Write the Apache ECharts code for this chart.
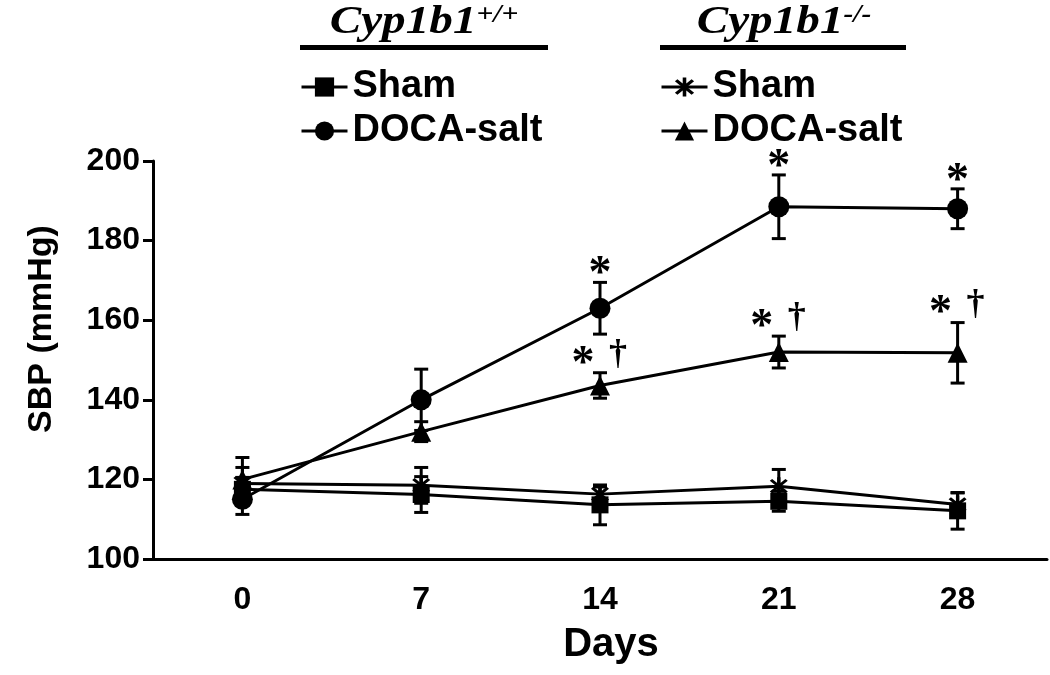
<!DOCTYPE html>
<html><head><meta charset="utf-8">
<script src="https://cdn.jsdelivr.net/npm/echarts@6/dist/echarts.min.js"></script>
<style>html,body{margin:0;padding:0;background:#fff}#c{width:1050px;height:675px}</style>
</head><body><div id="c"></div>
<script>
// ---- data ----
const days = ['0', '7', '14', '21', '28'];
const yTicks = [100, 120, 140, 160, 180, 200];
const seriesNames = ['WT|Sham', 'WT|DOCA-salt', 'KO|Sham', 'KO|DOCA-salt'];
const wtSham = [117.5, 116.2, 113.6, 114.5, 112.1];
const wtShamErr = [3.0, 4.5, 5.0, 2.5, 4.6];
const wtDoca = [115.0, 140.0, 163.0, 188.5, 188.0];
const wtDocaErr = [3.8, 7.7, 6.5, 8.0, 5.0];
const koSham = [119.0, 118.5, 116.3, 118.3, 113.7];
const koShamErr = [4.0, 4.5, 1.8, 4.2, 2.9];
const koDoca = [120.0, 132.0, 143.6, 152.0, 151.8];
const koDocaErr = [5.5, 2.5, 3.2, 4.0, 7.6];
const sigWtDoca = ['', '', '*', '*', '*'];
const sigKoDocaStar = ['', '', '*', '*', '*'];
const sigKoDocaDagger = ['', '', '\u2020', '\u2020', '\u2020'];
const groupTitles = ['Cyp1b1', 'Cyp1b1'];
const groupSup = ['+/+', '-/-'];

// ---- helpers ----
const SANS = '"Liberation Sans", Arial, sans-serif';
const SERIF = '"Liberation Serif", "Times New Roman", serif';
const starPath = 'path://M8.5 0L11.5 0L11.5 20L8.5 20Z M4.06 1.94L18.06 15.94L15.94 18.06L1.94 4.06Z M15.94 1.94L18.06 4.06L4.06 18.06L1.94 15.94Z';

function lineSeries(name, data, symbol, size) {
  return {
    type: 'line', name: name, data: data, symbol: symbol, symbolSize: size,
    showAllSymbol: true, z: 3,
    lineStyle: {color: '#000', width: 3},
    itemStyle: {color: '#000', borderWidth: 0},
    emphasis: {disabled: true}, animation: false
  };
}
function errSeries(means, errs) {
  return {
    type: 'custom', z: 4, silent: true, animation: false,
    data: means.map((m, i) => [i, m, errs[i]]),
    renderItem: function (params, api) {
      const i = api.value(0), m = api.value(1), e = api.value(2);
      const hi = api.coord([i, m + e]);
      const lo = api.coord([i, m - e]);
      const w = 7;
      const st = {stroke: '#000', lineWidth: 3};
      return {type: 'group', children: [
        {type: 'line', shape: {x1: hi[0], y1: hi[1], x2: lo[0], y2: lo[1]}, style: st},
        {type: 'line', shape: {x1: hi[0] - w, y1: hi[1], x2: hi[0] + w, y2: hi[1]}, style: st},
        {type: 'line', shape: {x1: lo[0] - w, y1: lo[1], x2: lo[0] + w, y2: lo[1]}, style: st}
      ]};
    }
  };
}
function sigSeries(means, errs, marks) {
  return {
    type: 'custom', z: 5, silent: true, animation: false,
    data: means.map((m, i) => [i, m, errs[i]]),
    renderItem: function (params, api) {
      const i = api.value(0), m = api.value(1), e = api.value(2);
      const hi = api.coord([i, m + e]);
      const kids = [];
      marks.forEach(function (mk) {
        const t = mk[0][params.dataIndex];
        if (!t) return;
        kids.push({type: 'text', x: hi[0] + mk[1], y: hi[1] + mk[2],
          style: {text: t, font: mk[3], fill: '#000', align: 'center', verticalAlign: 'middle'}});
      });
      return {type: 'group', children: kids};
    }
  };
}

const chart = echarts.init(document.getElementById('c'), null, {renderer: 'canvas'});
const legendBase = {
  orient: 'horizontal', itemWidth: 46, itemHeight: 24, itemGap: 0, padding: 0,
  selectedMode: false,
  lineStyle: {width: 3, color: '#000'},
  textStyle: {fontFamily: SANS, fontWeight: 'bold', fontSize: 38, color: '#000', padding: [0, 0, 0, 0]},
  formatter: function (n) { return n.split('|')[1]; }
};
function titleText(idx, cx) {
  return {
    type: 'text', x: cx, y: 3, scaleX: 1.18, originX: 0, originY: 0,
    style: {
      text: '{a|' + groupTitles[idx] + '}{b|' + groupSup[idx] + '}',
      align: 'center', verticalAlign: 'top',
      rich: {
        a: {font: 'italic bold 40px ' + SERIF, fill: '#000', verticalAlign: 'bottom', lineHeight: 40},
        b: {font: 'italic bold 25px ' + SERIF, fill: '#000', verticalAlign: 'top', lineHeight: 40, padding: [0, 0, 15, 0]}
      }
    }
  };
}

chart.setOption({
  backgroundColor: '#fff',
  animation: false,
  grid: {left: 153, top: 161, width: 894, height: 398, containLabel: false},
  xAxis: {
    type: 'category', data: days, boundaryGap: true,
    name: 'Days', nameLocation: 'middle', nameGap: 66,
    nameTextStyle: {fontFamily: SANS, fontWeight: 'bold', fontSize: 40, color: '#000', padding: [0, 0, 0, 22]},
    axisLine: {lineStyle: {color: '#000', width: 3}},
    axisTick: {alignWithLabel: true, length: 9, lineStyle: {color: '#000', width: 3}},
    axisLabel: {fontFamily: SANS, fontWeight: 'bold', fontSize: 32, color: '#000', margin: 25},
    splitLine: {show: false}
  },
  yAxis: {
    type: 'value', min: yTicks[0], max: yTicks[yTicks.length - 1], interval: yTicks[1] - yTicks[0],
    axisLine: {show: true, lineStyle: {color: '#000', width: 3}},
    axisTick: {show: true, length: 10, lineStyle: {color: '#000', width: 3}},
    axisLabel: {fontFamily: SANS, fontWeight: 'bold', fontSize: 32, color: '#000', margin: 13},
    splitLine: {show: false}
  },
  legend: [
    Object.assign({}, legendBase, {data: [seriesNames[0]], left: 300, top: 68}),
    Object.assign({}, legendBase, {data: [seriesNames[1]], left: 300, top: 112}),
    Object.assign({}, legendBase, {data: [seriesNames[2]], left: 660, top: 68}),
    Object.assign({}, legendBase, {data: [seriesNames[3]], left: 660, top: 112})
  ],
  graphic: [
    titleText(0, 424),
    titleText(1, 784),
    {type: 'rect', shape: {x: 300, y: 45, width: 248, height: 5}, style: {fill: '#000'}},
    {type: 'rect', shape: {x: 660, y: 45, width: 246, height: 5}, style: {fill: '#000'}},
    {type: 'text', x: 42, y: 329, rotation: Math.PI / 2,
      style: {text: 'SBP (mmHg)', font: 'bold 34px ' + SANS, fill: '#000', align: 'center', verticalAlign: 'middle'}}
  ],
  series: [
    lineSeries(seriesNames[0], wtSham, 'rect', 17),
    lineSeries(seriesNames[1], wtDoca, 'circle', 21),
    lineSeries(seriesNames[2], koSham, starPath, 18),
    lineSeries(seriesNames[3], koDoca, 'triangle', 20),
    errSeries(wtSham, wtShamErr),
    errSeries(wtDoca, wtDocaErr),
    errSeries(koSham, koShamErr),
    errSeries(koDoca, koDocaErr),
    sigSeries(wtDoca, wtDocaErr, [[sigWtDoca, 0, -7, 'bold 46px ' + SERIF]]),
    sigSeries(koDoca, koDocaErr, [[sigKoDocaStar, -17, -8, 'bold 46px ' + SERIF],
                                  [sigKoDocaDagger, 18, -18, 'bold 36px ' + SERIF]])
  ]
});
</script>
</body></html>
